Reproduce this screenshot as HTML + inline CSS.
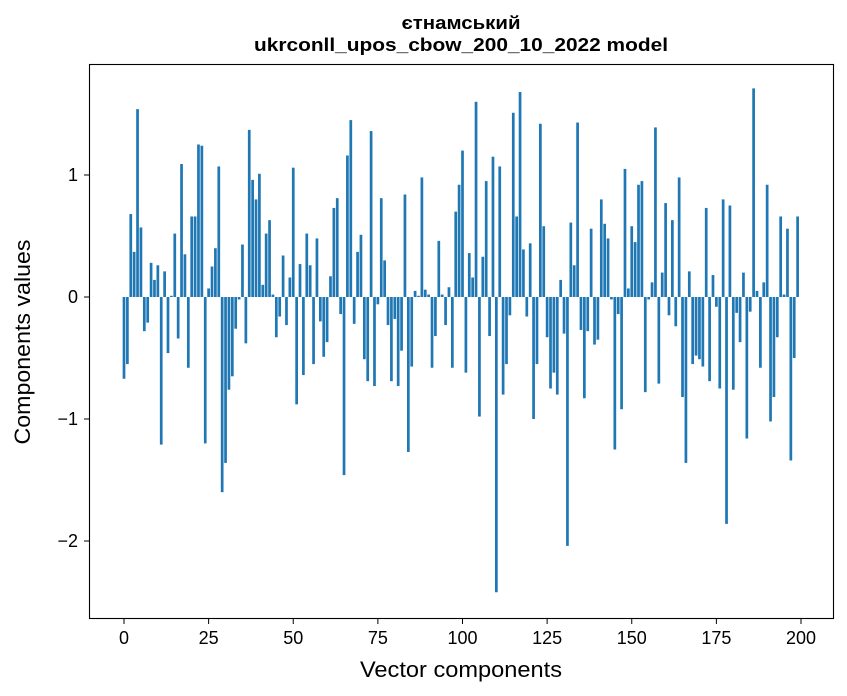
<!DOCTYPE html>
<html><head><meta charset="utf-8"><style>
body{margin:0;background:#fff;}
svg{display:block;font-family:"Liberation Sans","DejaVu Sans",sans-serif;}
</style></head><body>
<svg id="chart" width="847" height="696" viewBox="0 0 847 696" xmlns="http://www.w3.org/2000/svg">
<rect width="847" height="696" fill="#fff"/>
<text x="461" y="29" text-anchor="middle" font-size="18" font-weight="bold" textLength="119" lengthAdjust="spacingAndGlyphs">єтнамський</text>
<text x="461" y="51" text-anchor="middle" font-size="18" font-weight="bold" textLength="414" lengthAdjust="spacingAndGlyphs">ukrconll_upos_cbow_200_10_2022 model</text>
<g id="bars"></g>
<rect x="89.5" y="64.5" width="744" height="554" fill="none" stroke="#000" stroke-width="1.1"/>
<g id="xticks"></g>
<g id="yticks"></g>
<text x="461" y="677" text-anchor="middle" font-size="22" textLength="202" lengthAdjust="spacingAndGlyphs">Vector components</text>
<text transform="translate(30,342) rotate(-90)" text-anchor="middle" font-size="22" textLength="205" lengthAdjust="spacingAndGlyphs">Components values</text>
</svg>
<script>
const values = [-0.67,-0.55,0.68,0.37,1.54,0.57,-0.28,-0.21,0.28,0.14,0.26,-1.21,0.21,-0.46,0.01,0.52,-0.34,1.09,0.35,-0.58,
0.66,0.66,1.25,1.24,-1.2,0.07,0.25,0.40,1.07,-1.60,-1.36,-0.76,-0.65,-0.26,-0.02,0.43,-0.38,1.37,0.96,0.80,
1.01,0.10,0.52,0.63,0.02,-0.33,-0.16,0.34,-0.23,0.16,1.06,-0.88,0.27,-0.64,0.52,0.26,-0.55,0.48,-0.20,-0.49,
-0.37,0.17,0.73,0.81,-0.14,-1.46,1.16,1.45,-0.22,0.37,0.51,-0.51,-0.69,1.36,-0.73,-0.06,0.81,0.30,-0.23,-0.69,
-0.18,-0.73,-0.44,0.84,-1.27,-0.57,0.05,0.01,0.98,0.06,0.02,-0.58,-0.32,0.46,0.02,-0.23,0.08,-0.58,0.70,0.92,
1.20,-0.62,0.36,0.16,1.60,-0.98,0.33,0.95,-0.32,1.15,-2.42,1.07,-0.80,-0.55,-0.15,1.51,0.66,1.68,0.39,-0.16,
0.44,-1.00,-0.55,1.42,0.58,-0.33,-0.75,-0.62,-0.80,0.14,-0.30,-2.04,0.61,0.26,1.43,-0.27,-0.83,-0.28,0.56,-0.39,
-0.35,0.80,0.60,0.48,-0.02,-1.25,-0.14,-0.92,1.05,0.07,0.58,0.45,0.92,0.95,-0.78,-0.02,0.12,1.39,-0.71,0.20,
0.77,-0.15,0.63,-0.24,0.98,-0.82,-1.36,0.21,-0.55,-0.48,-0.51,-0.57,0.73,-0.69,0.18,-0.08,-0.75,0.80,-1.86,0.75,
-0.76,-0.13,-0.37,0.20,-1.16,-0.12,1.71,0.05,-0.58,0.12,0.92,-1.02,-0.82,-0.33,0.66,0.02,0.56,-1.34,-0.50,0.66];
const xTicks = [0,25,50,75,100,125,150,175,200];
const yTicks = [-2,-1,0,1];
const NS='http://www.w3.org/2000/svg';
function xs(v){return 124+v*3.385;}
function ys(v){return 297-v*122;}
const bars=document.getElementById('bars');
values.forEach(function(v,i){
  const r=document.createElementNS(NS,'rect');
  
  
  const y0=ys(0), y1=ys(v);
  r.setAttribute('x',xs(i-0.4));
  r.setAttribute('width',3.385*0.8);
  r.setAttribute('y',Math.min(y0,y1));
  r.setAttribute('height',Math.abs(y1-y0));
  r.setAttribute('fill','#1f77b4');
  bars.appendChild(r);
});
const xg=document.getElementById('xticks');
xTicks.forEach(function(t){
  const l=document.createElementNS(NS,'line');
  
  
  l.setAttribute('x1',xs(t));l.setAttribute('x2',xs(t));
  l.setAttribute('y1',619);l.setAttribute('y2',624);
  l.setAttribute('stroke','#000');
  xg.appendChild(l);
  const tx=document.createElementNS(NS,'text');
  
  
  tx.setAttribute('x',xs(t));tx.setAttribute('y',644);
  tx.setAttribute('text-anchor','middle');tx.setAttribute('font-size','18');
  tx.textContent=String(t);
  xg.appendChild(tx);
});
const yg=document.getElementById('yticks');
yTicks.forEach(function(t){
  const l=document.createElementNS(NS,'line');
  
  
  l.setAttribute('x1',84);l.setAttribute('x2',89);
  l.setAttribute('y1',ys(t));l.setAttribute('y2',ys(t));
  l.setAttribute('stroke','#000');
  yg.appendChild(l);
  const tx=document.createElementNS(NS,'text');
  
  
  tx.setAttribute('x',78);tx.setAttribute('y',ys(t)+6);
  tx.setAttribute('text-anchor','end');tx.setAttribute('font-size','18');
  tx.textContent=t<0?'\u2212'+Math.abs(t):String(t);
  yg.appendChild(tx);
});
</script>
</body></html>
